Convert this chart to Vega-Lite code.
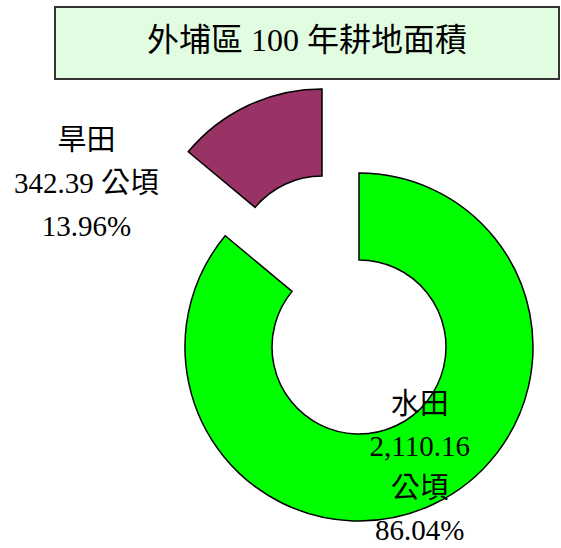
{
  "$schema": "https://vega.github.io/schema/vega-lite/v6.json",
  "padding": {"left": 0, "top": 6, "right": 0, "bottom": 0},
  "spacing": 0,
  "bounds": "full",
  "config": {"view": {"stroke": null}},
  "datasets": {
    "fields": [
      {"type": "水田", "area": 2110.16, "label": "水田\n2,110.16\n公頃\n86.04%"},
      {"type": "旱田", "area": 342.39, "label": "旱田\n342.39 公頃\n13.96%"}
    ],
    "heading": [{"t": "外埔區 100 年耕地面積"}],
    "blank": [{"t": ""}]
  },
  "vconcat": [
    {
      "hconcat": [
        {"data": {"name": "blank"}, "width": 55, "height": 72, "mark": {"type": "point", "opacity": 0}, "encoding": {}},
        {
          "data": {"name": "heading"},
          "width": 504,
          "height": 72,
          "view": {"fill": "#E2FCE2", "stroke": "#333333", "strokeWidth": 2},
          "mark": {"type": "text", "font": "Liberation Serif, Noto Sans CJK TC", "fontSize": 32, "color": "#000000", "dy": -2},
          "encoding": {"text": {"field": "t", "type": "nominal"}}
        }
      ],
      "spacing": 0,
      "bounds": "flush"
    },
    {"data": {"name": "blank"}, "width": 10, "height": 4, "mark": {"type": "point", "opacity": 0, "size": 1}, "encoding": {}},
    {
      "hconcat": [
        {"data": {"name": "blank"}, "width": 157, "height": 462, "mark": {"type": "point", "opacity": 0}, "encoding": {}},
        {
          "data": {"name": "fields"},
          "width": 404,
          "height": 462,
          "encoding": {
            "theta": {"field": "area", "type": "quantitative", "stack": true},
            "order": {"field": "area", "type": "quantitative", "sort": "descending"},
            "color": {"field": "type", "type": "nominal", "scale": {"domain": ["水田", "旱田"], "range": ["#00FF00", "#993366"]}, "legend": null}
          },
          "layer": [
            {
              "mark": {"type": "arc", "outerRadius": 174, "innerRadius": 87, "stroke": "#000000", "strokeWidth": 1.5, "yOffset": 32},
              "encoding": {"opacity": {"condition": {"test": "datum.type === '旱田'", "value": 0}, "value": 1}}
            },
            {
              "mark": {"type": "arc", "outerRadius": 174, "innerRadius": 87, "stroke": "#000000", "strokeWidth": 1.5, "xOffset": -37, "yOffset": -52},
              "encoding": {"opacity": {"condition": {"test": "datum.type === '旱田'", "value": 1}, "value": 0}}
            },
            {
              "mark": {"type": "text", "radius": 136, "dx": 3, "dy": -33, "font": "Liberation Serif, Noto Sans CJK TC", "fontSize": 29, "lineHeight": 42, "lineBreak": "\n", "color": "#000000"},
              "encoding": {
                "text": {"field": "label", "type": "nominal"},
                "color": {"value": "#000000"},
                "opacity": {"condition": {"test": "datum.type === '水田'", "value": 1}, "value": 0}
              }
            },
            {
              "mark": {"type": "text", "radius": 180, "dx": -196, "dy": -11, "font": "Liberation Serif, Noto Sans CJK TC", "fontSize": 29, "lineHeight": 43, "lineBreak": "\n", "color": "#000000"},
              "encoding": {
                "text": {"field": "label", "type": "nominal"},
                "color": {"value": "#000000"},
                "opacity": {"condition": {"test": "datum.type === '旱田'", "value": 1}, "value": 0}
              }
            }
          ]
        }
      ],
      "spacing": 0,
      "bounds": "flush"
    }
  ]
}
